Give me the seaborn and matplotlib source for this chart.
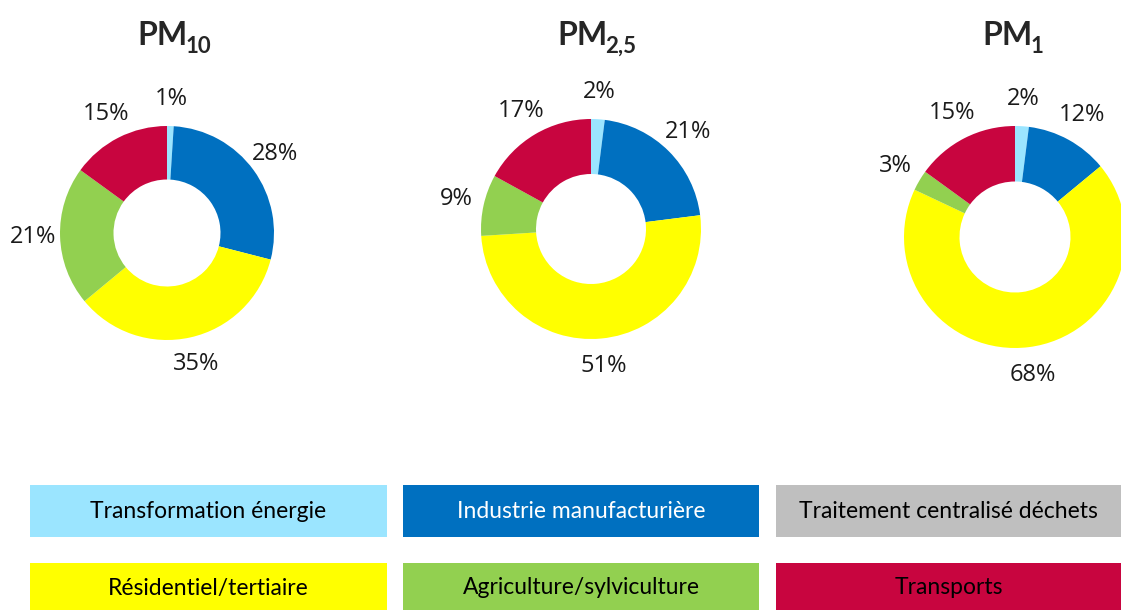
import matplotlib
matplotlib.use('Agg')
import matplotlib.pyplot as plt
import seaborn as sns

# données (% des émissions par secteur)
secteurs = ['Transformation énergie', 'Industrie manufacturière',
            'Traitement centralisé déchets', 'Résidentiel/tertiaire',
            'Agriculture/sylviculture', 'Transports']
couleurs = ['#9BE5FF', '#0070C0', '#BFBFBF', '#FFFF00', '#92D050', '#C8053F']
couleurs_texte = ['black', 'white', 'black', 'black', 'black', 'black']

pm10 = [1, 28, 0, 35, 21, 15]
pm25 = [2, 21, 0, 51, 9, 17]
pm1 = [2, 12, 0, 68, 3, 15]

titres = [('PM', '10'), ('PM', '2,5'), ('PM', '1')]
series = [pm10, pm25, pm1]

sns.set_theme(style='white')
plt.rcParams['font.family'] = ['Open Sans', 'DejaVu Sans']

W, H = 1121, 610
fig = plt.figure(figsize=(W / 100, H / 100), dpi=100)
fig.patch.set_facecolor('white')
renderer = fig.canvas.get_renderer()

# centre (px), rayon (px) de chaque anneau, centre du titre
anneaux = [(167, 233, 107, 174), (591, 229, 110, 597), (1015, 237, 111, 1013)]

for (cx, cy, r, tx), valeurs, (base, indice) in zip(anneaux, series, titres):
    ax = fig.add_axes([(cx - r) / W, (H - cy - r) / H, 2 * r / W, 2 * r / H])
    vals = [v for v in valeurs if v > 0]
    cols = [c for v, c in zip(valeurs, couleurs) if v > 0]
    labs = [f'{v}%' for v in vals]
    wedges, textes = ax.pie(vals, colors=cols, labels=labs, startangle=90,
                            counterclock=False, radius=1, labeldistance=1.25,
                            wedgeprops=dict(width=0.5, linewidth=0))
    for t in textes:
        t.set_fontsize(17)
        t.set_color('#1a1a1a')
        t.set_ha('center')
        t.set_va('center')
    ax.set_xlim(-1, 1)
    ax.set_ylim(-1, 1)
    ax.axis('off')

    # titre PM + indice, centré sur tx
    t1 = fig.text(0, (H - 45) / H, base, fontsize=23, fontweight='bold',
                  family=['Lato', 'DejaVu Sans'], va='baseline')
    t2 = fig.text(0, (H - 53) / H, indice, fontsize=16, fontweight='bold',
                  family=['Lato', 'DejaVu Sans'], va='baseline')
    w1 = t1.get_window_extent(renderer).width
    w2 = t2.get_window_extent(renderer).width
    gap = -2
    x0 = tx - (w1 + gap + w2) / 2
    t1.set_x(x0 / W)
    t2.set_x((x0 + w1 + gap) / W)

# légende en pavés colorés
cols_x = [(30, 387), (403, 759), (776, 1121)]
rangs_y = [(485, 537), (563, 615)]
for i, (nom, coul, ct) in enumerate(zip(secteurs, couleurs, couleurs_texte)):
    x0, x1 = cols_x[i % 3]
    y0, y1 = rangs_y[i // 3]
    lax = fig.add_axes([x0 / W, (H - y1) / H, (x1 - x0) / W, (y1 - y0) / H])
    lax.set_facecolor(coul)
    lax.set_xticks([])
    lax.set_yticks([])
    for s in lax.spines.values():
        s.set_visible(False)
    ty = 0.5 if i < 3 else (y1 - 588) / (y1 - y0)
    lax.text(0.5, ty, nom, ha='center', va='center', fontsize=16.5,
             color=ct, family=['Lato', 'DejaVu Sans'], transform=lax.transAxes)

fig.savefig('out.png', dpi=100, facecolor='white')
